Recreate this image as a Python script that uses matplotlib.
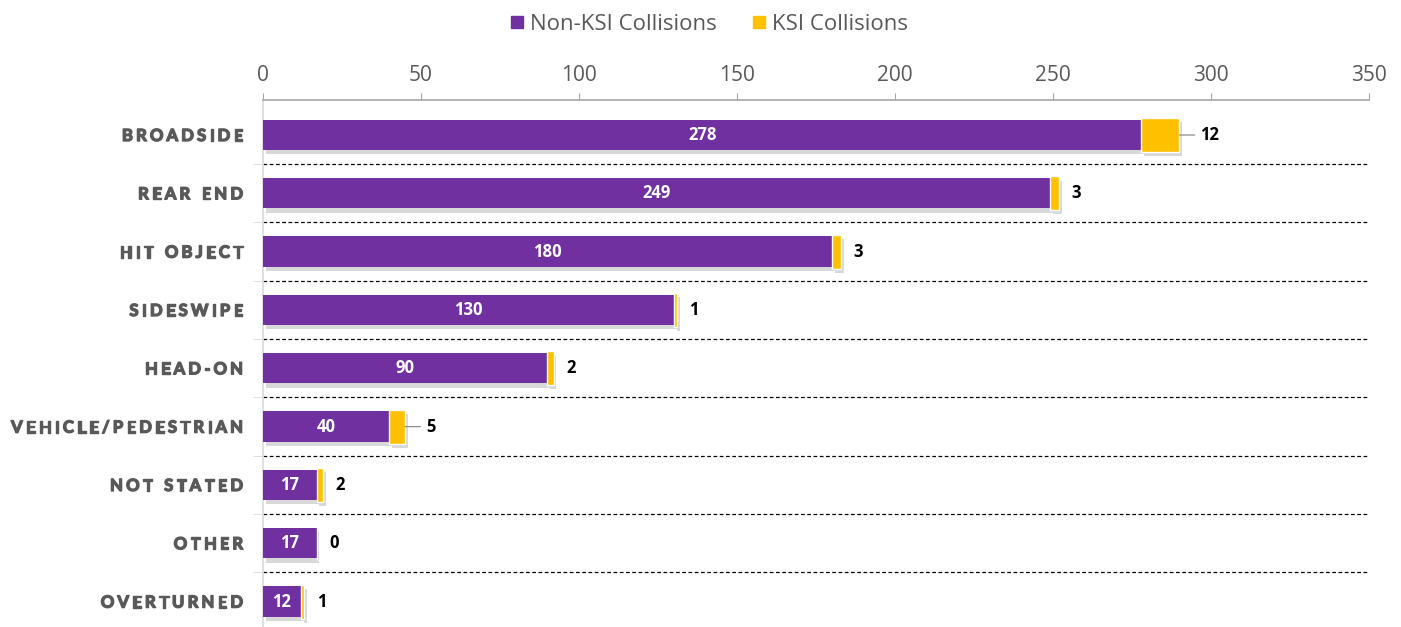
import matplotlib
matplotlib.use("Agg")
import matplotlib.pyplot as plt
import matplotlib.patheffects as pe
from matplotlib.lines import Line2D
from matplotlib.ticker import FixedLocator
from matplotlib.font_manager import FontProperties
from matplotlib.transforms import offset_copy

# Collision types and counts
categories = ["BROADSIDE", "REAR END", "HIT OBJECT", "SIDESWIPE", "HEAD-ON",
              "VEHICLE/PEDESTRIAN", "NOT STATED", "OTHER", "OVERTURNED"]
non_ksi = [278, 249, 180, 130, 90, 40, 17, 17, 12]
ksi = [12, 3, 3, 1, 2, 5, 2, 0, 1]
x_ticks = [0, 50, 100, 150, 200, 250, 300, 350]

PURPLE = "#7030A0"
GOLD = "#FFC000"
GREY_TEXT = "#595959"
FONT = ["Open Sans", "DejaVu Sans"]
LABEL_FONT = ["Lato", "DejaVu Sans"]

plt.rcParams["font.family"] = FONT

fig = plt.figure(figsize=(14.01, 6.27), dpi=100)
ax = fig.add_axes([263 / 1401, -2 / 627, (1369 - 263) / 1401, 529 / 627])

y = list(range(len(categories)))
shadow = [pe.SimplePatchShadow(offset=(2, -3), shadow_rgbFace="#7f7f7f", alpha=0.3),
          pe.Normal()]

bars_a = ax.barh(y, non_ksi, height=0.52, color=PURPLE, edgecolor="none", zorder=3)
bars_b = ax.barh(y, ksi, left=non_ksi, height=0.58, color=GOLD,
                 edgecolor="white", linewidth=1.0, zorder=3)
for b in list(bars_a) + list(bars_b):
    b.set_path_effects(shadow)

ax.set_xlim(0, 350)
ax.set_ylim(8.47, -0.6)

# Labels pulled further out get a leader line back to their bar
leader_rows = {0, 5}

# Value labels
for i, (a, k) in enumerate(zip(non_ksi, ksi)):
    ax.text(a / 2, i, str(a), ha="center", va="center", color="white",
            fontsize=12, fontweight="bold", zorder=5)
    end = a + k
    off = 15 if i in leader_rows else 9
    ax.annotate(str(k), xy=(end, i), xytext=(off, 0), textcoords="offset points",
                ha="left", va="center", color="black", fontsize=12,
                fontweight="bold", zorder=5)
    if i in leader_rows:
        ax.annotate("", xy=(end, i), xytext=(off - 4, 0), textcoords="offset points",
                    arrowprops=dict(arrowstyle="-", color="#8c8c8c", lw=0.9,
                                    shrinkA=0, shrinkB=0))

# Dashed row separators
for sep in [i + 0.5 for i in range(len(categories) - 1)]:
    ax.axhline(sep, color="black", lw=0.9, ls=(0, (3, 2)), zorder=1)

# Axis styling: value axis on top
ax.xaxis.tick_top()
ax.set_xticks(x_ticks)
ax.tick_params(axis="x", which="major", length=5, direction="out",
               color="#a6a6a6", labelsize=15, labelcolor=GREY_TEXT, pad=5)

ax.set_yticks(y)
ax.set_yticklabels([])
ax.yaxis.set_minor_locator(FixedLocator([i + 0.5 for i in range(len(categories) - 1)]))
ax.tick_params(axis="y", which="major", length=0)
ax.tick_params(axis="y", which="minor", length=7, color="#d9d9d9", direction="out")

for side in ("right", "bottom"):
    ax.spines[side].set_visible(False)
ax.spines["top"].set_color("#a6a6a6")
ax.spines["top"].set_linewidth(1.2)
ax.spines["left"].set_color("#d9d9d9")
ax.spines["left"].set_linewidth(1.2)

# Letter-spaced category labels, set one glyph at a time
renderer = fig.canvas.get_renderer()
label_prop = FontProperties(family=LABEL_FONT, weight="bold", size=12)
tracking = 3.2      # px between glyphs
space_w = 5.0       # px for a word space
right_pad = 20.0    # px from the axis line to the label's right edge
_, cap_h, cap_d = renderer.get_text_width_height_descent("H", label_prop, ismath=False)
cap_h -= cap_d
ytrans = ax.get_yaxis_transform()
thicken = [pe.withStroke(linewidth=1.0, foreground=GREY_TEXT)]
for i, name in enumerate(categories):
    widths = []
    for ch in name:
        if ch == " ":
            widths.append(space_w)
        else:
            w, _, _ = renderer.get_text_width_height_descent(ch, label_prop, ismath=False)
            widths.append(w)
    total = sum(widths) + tracking * (len(name) - 1)
    x = -right_pad - total
    for ch, w in zip(name, widths):
        if ch != " ":
            tr = offset_copy(ytrans, fig=fig, x=x, y=-cap_h / 2, units="dots")
            ax.text(0, i, ch, transform=tr, ha="left", va="baseline",
                    fontproperties=label_prop, color=GREY_TEXT,
                    path_effects=thicken, clip_on=False)
        x += w + tracking

handles = [Line2D([], [], marker="s", ls="none", color=PURPLE, markersize=8),
           Line2D([], [], marker="s", ls="none", color=GOLD, markersize=8)]
fig.legend(handles, ["Non-KSI Collisions", "KSI Collisions"], loc="center",
           bbox_to_anchor=(707 / 1401, 1 - 24 / 627), ncol=2, frameon=False,
           fontsize=16, labelcolor=GREY_TEXT, handletextpad=0.1,
           columnspacing=1.4, handlelength=1.0)

fig.savefig("out.png", dpi=100)
